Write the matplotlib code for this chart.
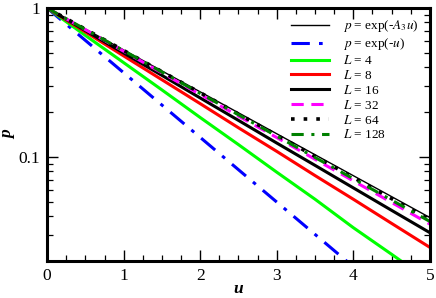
import numpy as np
import matplotlib
matplotlib.use("Agg")
import matplotlib.pyplot as plt
from matplotlib.ticker import FixedLocator, NullFormatter, FuncFormatter

plt.rcParams['font.family'] = ['Liberation Serif', 'DejaVu Serif']
plt.rcParams['mathtext.fontset'] = 'stix'

# values
u = [0.0, 0.5, 1.0, 1.5, 2.0, 2.5, 3.0, 3.5, 4.0, 4.5, 5.0]
p_L4 = [1.0, 0.655, 0.43, 0.282, 0.184, 0.121, 0.079, 0.052, 0.0335, 0.0222, 0.0146]
p_L8 = [1.0, 0.691, 0.477, 0.330, 0.228, 0.157, 0.109, 0.075, 0.052, 0.0358, 0.0247]
p_L16 = [1.0, 0.706, 0.499, 0.353, 0.249, 0.176, 0.124, 0.0878, 0.062, 0.0438, 0.031]
p_L32 = [1.0, 0.716, 0.513, 0.367, 0.263, 0.188, 0.135, 0.0965, 0.0691, 0.0495, 0.0354]
p_L64 = [1.0, 0.721, 0.519, 0.374, 0.270, 0.194, 0.140, 0.101, 0.0728, 0.0525, 0.0378]
p_L128 = [1.0, 0.719, 0.517, 0.372, 0.267, 0.192, 0.138, 0.0992, 0.0714, 0.0513, 0.0369]
A3 = 0.648

uu = np.linspace(0, 5, 200)

fig = plt.figure(figsize=(4.36, 2.98), dpi=100)
ax = fig.add_axes([0.108, 0.124, 0.878, 0.849])

ax.plot(uu, np.exp(-A3 * uu), color='black', lw=1.0, label=r'$p$ = exp(-$A_{3}u$)')
ax.plot(uu, np.exp(-uu), color='#0000ff', lw=2.2, ls=(0, (6, 3, 1.2, 3)), label=r'$p$ = exp(-$u$)')
ax.plot(u, p_L4, color='#00ff00', lw=2.2, label=r'$L$ = 4')
ax.plot(u, p_L8, color='#ff0000', lw=2.2, label=r'$L$ = 8')
ax.plot(u, p_L16, color='black', lw=2.2, label=r'$L$ = 16')
ax.plot(u, p_L32, color='#ff00ff', lw=2.2, ls=(0, (4, 2.5)), label=r'$L$ = 32')
ax.plot(u, p_L64, color='black', lw=2.6, ls=(0, (1, 2.5)), label=r'$L$ = 64')
ax.plot(u, p_L128, color='#008000', lw=2.2, ls=(0, (4, 2.5, 1, 2.5)), label=r'$L$ = 128')

ax.set_yscale('log')
ax.set_xlim(0, 5)
ax.set_ylim(0.02, 1)

ax.xaxis.set_major_locator(FixedLocator([0, 1, 2, 3, 4, 5]))
ax.xaxis.set_minor_locator(FixedLocator(np.arange(0, 5.01, 0.25)))
ax.yaxis.set_major_locator(FixedLocator([0.1, 1]))
ax.yaxis.set_minor_locator(FixedLocator([0.02, 0.03, 0.04, 0.05, 0.06, 0.07, 0.08, 0.09,
                                         0.2, 0.3, 0.4, 0.5, 0.6, 0.7, 0.8, 0.9]))
ax.yaxis.set_major_formatter(FuncFormatter(lambda v, pos: '%g' % v))
ax.yaxis.set_minor_formatter(NullFormatter())

ax.tick_params(which='both', direction='in', top=True, right=True, labelsize=12.5, pad=5)
ax.tick_params(which='major', length=8, width=1.0)
ax.tick_params(which='minor', length=4.5, width=0.9)
for s in ax.spines.values():
    s.set_linewidth(2.2)

ax.set_xlabel('u', fontsize=12.5, fontweight='bold', fontstyle='italic', labelpad=-2)
ax.set_ylabel('p', fontsize=12.5, fontweight='bold', fontstyle='italic', labelpad=2)

ax.legend(loc='upper right', bbox_to_anchor=(0.99, 0.99), frameon=False, fontsize=9.5,
          handlelength=2.9, handletextpad=1.0, labelspacing=0.14, borderaxespad=0.2)

fig.savefig('out.png', dpi=100)
